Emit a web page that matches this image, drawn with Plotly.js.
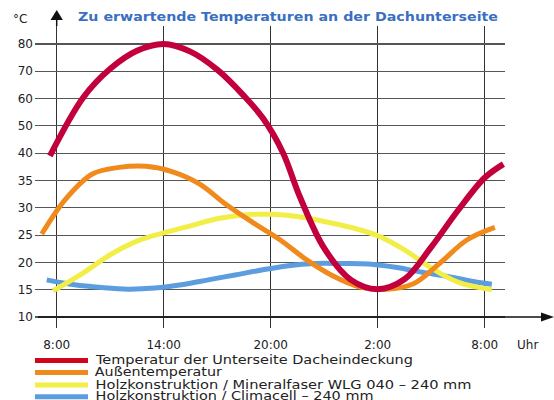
<!DOCTYPE html>
<html><head><meta charset="utf-8">
<script src="https://cdn.plot.ly/plotly-3.0.1.min.js"></script>
<style>html,body{margin:0;padding:0;background:#fff}#c{width:554px;height:400px}</style>
</head><body><div id="c"></div>
<script>
// ---- data (temperatures in °C, time in hours counted from 0:00 of day 1) ----
const seriesNames = [
  'Temperatur der Unterseite Dacheindeckung',
  'Außentemperatur',
  'Holzkonstruktion / Mineralfaser WLG 040 – 240 mm',
  'Holzkonstruktion / Climacell – 240 mm'
];
const seriesColors = ['#c2003c', '#f08a1c', '#f2ee48', '#5c9de0'];
const legendColors = ['#d0061f', '#f08a1c', '#f2ee48', '#5c9de0'];

const redHours = [7.62, 9.5, 11, 12.5, 14, 15.5, 17, 18.5, 19.6, 20.7, 21.6, 23, 24.5, 26, 27.5, 29, 30.5, 32, 33.05];
const redTemps = [39.5, 60.5, 70.9, 77.5, 80, 77.2, 70.6, 61, 52.5, 40, 32.3, 22.6, 16.8, 15.1, 16.9, 22.8, 29.5, 35.5, 38];

const orangeHours = [7.16, 8.5, 10, 11.5, 13, 14.5, 16, 17.5, 19, 20.5, 22, 23.5, 25, 26.5, 28, 29.5, 31, 32.57];
const orangeTemps = [25.2, 31.6, 36.2, 37.4, 37.6, 36.6, 34.4, 30.6, 27.3, 24.2, 20.5, 17.5, 15.5, 15.1, 16.1, 19.9, 24.1, 26.4];

const yellowHours = [7.8, 9.5, 11, 12.5, 14, 15.5, 17, 18.5, 20, 21.5, 23, 24.5, 26, 27.5, 29, 30.5, 32.4];
const yellowTemps = [14.8, 18.1, 21.4, 23.9, 25.4, 26.7, 28, 28.7, 28.8, 28.4, 27.5, 26.4, 24.9, 22.3, 19, 16.4, 15];

const blueHours = [7.44, 9, 10.5, 12, 13.5, 15, 16.5, 18, 19.5, 21, 22.5, 24, 25.5, 27, 28.5, 30, 31.5, 32.4];
const blueTemps = [16.8, 15.9, 15.4, 15.1, 15.3, 15.9, 16.8, 17.7, 18.6, 19.4, 19.8, 19.8, 19.7, 19.1, 18.2, 17.4, 16.4, 16];

const xTickHours = [8, 14, 20, 26, 32];
const xTickLabels = ['8:00', '14:00', '20:00', '2:00', '8:00'];
const yTickTemps = [10, 15, 20, 25, 30, 35, 40, 50, 60, 70, 80];
const yTickLabels = ['10', '15', '20', '25', '30', '35', '40', '50', '60', '70', '80'];
const titleText = 'Zu erwartende Temperaturen an der Dachunterseite';

// the original axis is broken: 5 °C steps up to 40, 10 °C steps above
function toAxis(t) { return t <= 40 ? (t - 10) / 5 : 6 + (t - 40) / 10; }

// ---- geometry helpers (pixel -> paper) ----
const L = 35, R = 505, T = 26, B = 328;
const px = x => (x - L) / (R - L);
const py = y => (B - y) / (B - T);

const hourSets = [redHours, orangeHours, yellowHours, blueHours];
const tempSets = [redTemps, orangeTemps, yellowTemps, blueTemps];
const widths = [6, 5, 5, 5];
const drawOrder = [3, 2, 1, 0];

const traces = drawOrder.map(i => ({
  type: 'scatter', mode: 'lines', name: seriesNames[i],
  x: hourSets[i], y: tempSets[i].map(toAxis),
  line: {color: seriesColors[i], width: widths[i], shape: 'spline', smoothing: 1},
  hoverinfo: 'skip', showlegend: false, cliponaxis: false
}));

const font = 'DejaVu Sans, Verdana, sans-serif';
const shapes = [
  {type: 'line', xref: 'paper', yref: 'paper', x0: px(56.7), x1: px(56.7), y0: py(26), y1: py(19), line: {color: '#111', width: 1.5}},
  {type: 'path', xref: 'paper', yref: 'paper', fillcolor: '#111', line: {width: 0},
   path: `M ${px(56.7)},${py(10)} L ${px(50.5)},${py(20)} L ${px(62.9)},${py(20)} Z`},
  {type: 'line', xref: 'paper', yref: 'paper', x0: px(38), x1: px(542), y0: py(317), y1: py(317), line: {color: '#111', width: 1.5}},
  {type: 'path', xref: 'paper', yref: 'paper', fillcolor: '#111', line: {width: 0},
   path: `M ${px(554)},${py(317)} L ${px(541)},${py(312.5)} L ${px(541)},${py(321.5)} Z`}
];
const annotations = [
  {xref: 'paper', yref: 'paper', x: px(20), y: py(19), text: '°C', showarrow: false, xanchor: 'center', yanchor: 'middle', font: {family: font, size: 12, color: '#222'}},
  {xref: 'paper', yref: 'paper', x: px(515), y: py(345), text: 'Uhr', showarrow: false, xanchor: 'left', yanchor: 'middle', font: {family: font, size: 12, color: '#222'}}
];
const legendY = [360.5, 372.5, 385, 396.8];
const legendW = [317, 127, 376, 278];
seriesNames.forEach((n, i) => {
  shapes.push({type: 'line', xref: 'paper', yref: 'paper', x0: px(35), x1: px(88), y0: py(legendY[i]), y1: py(legendY[i]), line: {color: legendColors[i], width: 5}});
  annotations.push({xref: 'paper', yref: 'paper', x: px(95 + legendW[i] / 2), y: py(legendY[i] - 0.5), text: n, showarrow: false,
    xanchor: 'center', yanchor: 'middle', font: {family: font, size: 12, color: '#222'}});
});

const layout = {
  width: 554, height: 400,
  margin: {l: L, r: 554 - R, t: T, b: 400 - B},
  paper_bgcolor: '#ffffff', plot_bgcolor: '#ffffff',
  showlegend: false,
  title: {text: '<b>' + titleText + '</b>', x: 288 / 554, xanchor: 'center', y: 1 - 16.5 / 400, yanchor: 'middle', xref: 'container', yref: 'container',
          font: {family: font, size: 13, color: '#3a6fc2'}},
  xaxis: {range: [6.783, 33.14], tickvals: xTickHours, ticktext: xTickLabels, showgrid: true, gridcolor: '#333', gridwidth: 1.3,
          zeroline: false, showline: false, ticks: '', ticklabelstandoff: 8, tickfont: {family: font, size: 12, color: '#222'}, fixedrange: true},
  yaxis: {range: [-0.403, 10.659], tickvals: yTickTemps.map(toAxis), ticktext: yTickLabels, showgrid: true, gridcolor: '#555', gridwidth: 1.2,
          zeroline: false, showline: false, ticks: '', ticklabelstandoff: 1, tickfont: {family: font, size: 12, color: '#222'}, fixedrange: true},
  shapes: shapes, annotations: annotations
};
Plotly.newPlot('c', traces, layout, {staticPlot: true}).then(gd => {
  // the reference lettering is horizontally stretched; stretch the text to the same widths
  const widthsByText = {};
  seriesNames.forEach((n, i) => { widthsByText[n] = legendW[i]; });
  gd.querySelectorAll('text.annotation-text').forEach(t => {
    const w = widthsByText[t.textContent];
    if (w) { t.setAttribute('textLength', w); t.setAttribute('lengthAdjust', 'spacingAndGlyphs'); }
  });
  const tt = gd.querySelector('text.gtitle');
  if (tt) { tt.setAttribute('textLength', 420); tt.setAttribute('lengthAdjust', 'spacingAndGlyphs'); }
});
</script></body></html>
